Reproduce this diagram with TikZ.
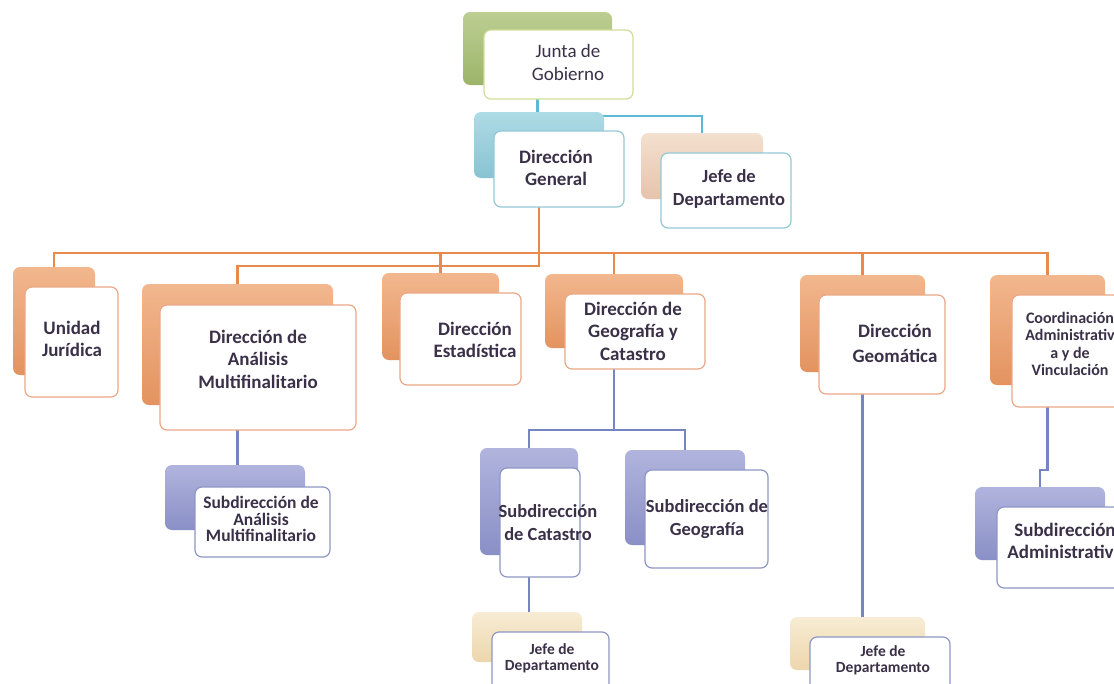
\documentclass[tikz,border=0pt]{standalone}
\usepackage{fontspec}
\setmainfont{Carlito}
\usetikzlibrary{fit}
\definecolor{txtc}{HTML}{3A3048}
\definecolor{orgline}{HTML}{E8894D}
\definecolor{bluline}{HTML}{7584C2}
\definecolor{cyaline}{HTML}{5DB9D3}
\definecolor{gT}{HTML}{BCCE92}\definecolor{gB}{HTML}{9CB56A}
\definecolor{cT}{HTML}{AEDBE5}\definecolor{cB}{HTML}{88C3D2}
\definecolor{eT}{HTML}{F3E0CE}\definecolor{eB}{HTML}{E6C3AC}
\definecolor{oT}{HTML}{F2B78E}\definecolor{oB}{HTML}{E3935F}
\definecolor{pT}{HTML}{B0B4DD}\definecolor{pB}{HTML}{8A8FC6}
\definecolor{lT}{HTML}{F7ECD4}\definecolor{lB}{HTML}{EDD6AC}
\definecolor{foD}{HTML}{EBA887}
\definecolor{fcD}{HTML}{92C9D8}
\definecolor{fgD}{HTML}{D4DC9A}
\definecolor{fpD}{HTML}{8E96C6}
\newcommand\myfA{\fontsize{19}{22.5}\selectfont\bfseries}
\newcommand\myfS{\fontsize{18.5}{23}\selectfont\bfseries}
\newcommand\myfR{\fontsize{19}{23}\selectfont}
\newcommand\myfB{\fontsize{17.5}{16.8}\selectfont\bfseries}
\newcommand\myfC{\fontsize{16}{17.3}\selectfont\bfseries}
\newcommand\myfD{\fontsize{15.5}{16}\selectfont\bfseries}
\begin{document}
\begin{tikzpicture}[x=1pt,y=-1pt,
  back/.style={inner sep=0pt, rounded corners=7pt, draw=none},
  bgreen/.style={back, top color=gT, bottom color=gB},
  bblue/.style={back, top color=cT, bottom color=cB},
  bbeige/.style={back, top color=eT, bottom color=eB},
  borange/.style={back, top color=oT, bottom color=oB},
  bpurple/.style={back, top color=pT, bottom color=pB},
  bpale/.style={back, top color=lT, bottom color=lB},
  front/.style={inner sep=0pt, rounded corners=7pt, fill=white, line width=1.2pt},
  forange/.style={front, draw=foD},
  fblue/.style={front, draw=fcD},
  fgreen/.style={front, draw=fgD},
  fpurple/.style={front, draw=fpD},
  txt/.style={align=center, text=txtc, inner sep=0pt},
  oline/.style={draw=orgline, line width=2.6pt},
  bline/.style={draw=bluline, line width=2.2pt},
  cline/.style={draw=cyaline, line width=2.6pt}]
\useasboundingbox (0,0) rectangle (1114,683);
\clip (0,0) rectangle (1114,683);
\fill[white] (0,0) rectangle (1114,683);

% bus coordinates
\coordinate (busT) at (0,116);
\coordinate (busA) at (0,253);
\coordinate (busB) at (0,266);
\coordinate (busC) at (0,430);
\coordinate (jog) at (0,470);

% back box outlines (named, used by the connectors)
\path[draw=none] node[inner sep=0pt, fit={(463,12) (612,85)}] (jgb) {}
  node[inner sep=0pt, fit={(474,112) (604,178)}] (dgb) {}
  node[inner sep=0pt, fit={(641,133) (763,199)}] (jtb) {}
  node[inner sep=0pt, fit={(13,267) (95,375)}] (ujb) {}
  node[inner sep=0pt, fit={(142,284) (333,405)}] (damb) {}
  node[inner sep=0pt, fit={(382,273) (499,360)}] (estb) {}
  node[inner sep=0pt, fit={(545,274) (683,348)}] (geob) {}
  node[inner sep=0pt, fit={(800,275) (925,372)}] (gmb) {}
  node[inner sep=0pt, fit={(990,275) (1105,385)}] (cvb) {}
  node[inner sep=0pt, fit={(165,465) (305,530)}] (sdamb) {}
  node[inner sep=0pt, fit={(480,448) (578,555)}] (scb) {}
  node[inner sep=0pt, fit={(625,450) (745,545)}] (sgb) {}
  node[inner sep=0pt, fit={(975,487) (1105,560)}] (sadb) {}
  node[inner sep=0pt, fit={(472,612) (582,662)}] (jblb) {}
  node[inner sep=0pt, fit={(790,617) (925,670)}] (jbrb) {};

% connectors
\draw[cline] (jgb.center) -- (jgb.center |- dgb.north);
\draw[cline] (jgb.center |- busT) -| (jtb.north);
\draw[oline] (dgb.center) -- (dgb.center |- busB) -| (damb.north);
\draw[oline] (ujb.north) -- (ujb.north |- busA) -- (cvb.north |- busA) -- (cvb.north);
\draw[oline] (estb.north) -- (estb.north |- busA);
\draw[oline] (geob.north) -- (geob.north |- busA);
\draw[oline] (gmb.north) -- (gmb.north |- busA);
\draw[bline] (damb.center) -- (damb.center |- sdamb.north);
\draw[bline] (geob.center) -- (geob.center |- busC);
\draw[bline] (scb.north) -- (scb.north |- busC) -- (sgb.north |- busC) -- (sgb.north);
\draw[bline] (scb.center) -- (scb.center |- jblb.north);
\draw[bline] (gmb.center) -- (gmb.center |- jbrb.north);
\draw[bline] (cvb.center) -- (cvb.center |- jog) -| (sadb.north);

% back boxes drawn
\node[bgreen, fit={(463,12) (612,85)}] (jgbk) {};
\node[bblue, fit={(474,112) (604,178)}] (dgbk) {};
\node[bbeige, fit={(641,133) (763,199)}] (jtbk) {};
\node[borange, fit={(13,267) (95,375)}] (ujbk) {};
\node[borange, fit={(142,284) (333,405)}] (dambk) {};
\node[borange, fit={(382,273) (499,360)}] (estbk) {};
\node[borange, fit={(545,274) (683,348)}] (geobk) {};
\node[borange, fit={(800,275) (925,372)}] (gmbk) {};
\node[borange, fit={(990,275) (1105,385)}] (cvbk) {};
\node[bpurple, fit={(165,465) (305,530)}] (sdambk) {};
\node[bpurple, fit={(480,448) (578,555)}] (scbk) {};
\node[bpurple, fit={(625,450) (745,545)}] (sgbk) {};
\node[bpurple, fit={(975,487) (1105,560)}] (sadbk) {};
\node[bpale, fit={(472,612) (582,662)}] (jblbk) {};
\node[bpale, fit={(790,617) (925,670)}] (jbrbk) {};

% front boxes
\node[fgreen, fit={(484,30) (633,99)}] (jg) {};
\node[fblue, fit={(494,131) (624,207)}] (dg) {};
\node[fblue, fit={(661,153) (791,228)}] (jt) {};
\node[forange, fit={(25,287) (118,397)}] (uj) {};
\node[forange, fit={(160,305) (356,430)}] (dam) {};
\node[forange, fit={(400,293) (521,385)}] (est) {};
\node[forange, fit={(565,294) (705,369)}] (geo) {};
\node[forange, fit={(819,295) (945,394)}] (gm) {};
\node[forange, fit={(1012,295) (1130,407)}] (cv) {};
\node[fpurple, fit={(195,487) (330,557)}] (sdam) {};
\node[fpurple, fit={(500,468) (580,577)}] (sc) {};
\node[fpurple, fit={(645,470) (768,568)}] (sg) {};
\node[fpurple, fit={(997,507) (1130,588)}] (sad) {};
\node[fpurple, fit={(492,632) (609,700)}] (jbl) {};
\node[fpurple, fit={(810,637) (950,705)}] (jbr) {};

% texts
\node[txt, font=\myfR] (jgt) at (568,62) {Junta de\\Gobierno};
\node[txt, font=\myfA] (dgt) at (556,168) {Dirección\\General};
\node[txt, font=\myfS] (jtt) at (729,189) {Jefe de\\Departamento};
\node[txt, font=\myfA] (ujt) at (72,339) {Unidad\\Jurídica};
\node[txt, font=\myfA] (damt) at (258,359) {Dirección de\\Análisis\\Multifinalitario};
\node[txt, font=\myfA] (estt) at (475,340) {Dirección\\Estadística};
\node[txt, font=\myfA] (geot) at (633,331) {Dirección de\\Geografía y\\Catastro};
\node[txt, font=\myfA, execute at begin node={\baselineskip=25pt}] (gmt) at (895,343) {Dirección\\Geomática};
\node[txt, font=\myfC] (cvt) at (1070,344) {Coordinación\\Administrativ\\a y de\\Vinculación};
\node[txt, font=\myfB] (sdamt) at (261,519) {Subdirección de\\Análisis\\Multifinalitario};
\node[txt, font=\myfS] (sct) at (548,523) {Subdirección\\de Catastro};
\node[txt, font=\myfS] (sgt) at (707,519) {Subdirección de\\Geografía};
\node[txt, font=\myfA] (sadt) at (1065,541) {Subdirección\\Administrativa};
\node[txt, font=\myfD] (jblt) at (552,658) {Jefe de\\Departamento};
\node[txt, font=\myfD] (jbrt) at (883,660) {Jefe de\\Departamento};
\end{tikzpicture}
\end{document}
